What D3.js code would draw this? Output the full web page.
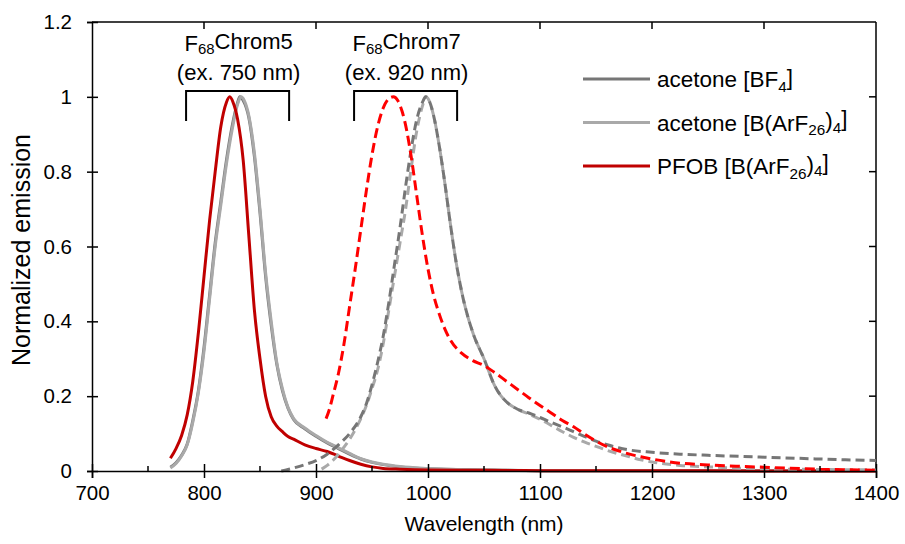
<!DOCTYPE html>
<html><head><meta charset="utf-8">
<script src="https://cdn.jsdelivr.net/npm/d3@7"></script>
<style>
html,body{margin:0;padding:0;background:#fff;}
svg text{font-family:"Liberation Sans",Arial,sans-serif;fill:#000;}
</style></head>
<body><svg id="c" width="905" height="544"></svg>
<script>
// ---- Data ----
const xTicks = [700, 800, 900, 1000, 1100, 1200, 1300, 1400];
const xMinorTicks = [750, 850, 950, 1050, 1150, 1250, 1350];
const yTicks = [0, 0.2, 0.4, 0.6, 0.8, 1, 1.2];
const yTickLabels = ["0", "0.2", "0.4", "0.6", "0.8", "1", "1.2"];

// F68Chrom5 (solid)
const c5BF4X = [770,775,780,785,790,795,800,805,810,815,820,825,830,832,835,840,845,850,855,860,865,870,875,880,890,900,910,920,930,940,950,960,975,1000,1050,1100,1200,1300,1400];
const c5BF4Y = [0.01,0.022,0.042,0.072,0.135,0.215,0.33,0.47,0.61,0.72,0.83,0.92,0.985,1.0,0.99,0.945,0.84,0.69,0.52,0.39,0.285,0.215,0.168,0.138,0.113,0.093,0.075,0.06,0.045,0.032,0.023,0.017,0.011,0.006,0.003,0.001,0.0005,0.0002,0.0001];
const c5ArFX = [770,775,780,785,790,795,800,805,810,815,820,825,830,833,836,840,845,850,855,860,865,870,875,880,890,900,910,920,930,940,950,960,975,1000,1050,1100,1200,1300,1400];
const c5ArFY = [0.008,0.02,0.04,0.07,0.13,0.21,0.32,0.46,0.6,0.71,0.82,0.91,0.98,1.0,0.99,0.95,0.85,0.7,0.53,0.4,0.29,0.22,0.17,0.14,0.115,0.095,0.077,0.062,0.047,0.033,0.024,0.018,0.012,0.007,0.003,0.001,0.0005,0.0002,0.0001];
const c5PfobX = [770,775,780,785,790,795,800,805,810,815,820,823,826,830,835,840,845,850,855,860,865,870,875,880,890,900,910,920,930,940,950,960,975,1000,1050,1100,1200,1300,1400];
const c5PfobY = [0.034,0.06,0.095,0.15,0.24,0.37,0.52,0.67,0.8,0.92,0.985,1.0,0.985,0.94,0.83,0.63,0.43,0.3,0.2,0.145,0.12,0.105,0.092,0.085,0.07,0.06,0.052,0.04,0.028,0.018,0.011,0.007,0.005,0.003,0.002,0.001,0.0005,0.0003,0.0002];

// F68Chrom7 (dashed)
const c7BF4X = [869,875,880,890,900,910,920,930,940,945,950,955,960,965,970,975,980,985,990,995,998,1001,1005,1010,1015,1020,1025,1030,1040,1050,1060,1070,1080,1090,1100,1110,1120,1130,1140,1150,1160,1170,1180,1200,1225,1250,1300,1350,1400];
const c7BF4Y = [0,0.004,0.008,0.017,0.028,0.045,0.07,0.1,0.145,0.18,0.23,0.29,0.36,0.45,0.55,0.65,0.76,0.86,0.94,0.985,1.0,0.99,0.95,0.87,0.77,0.66,0.56,0.48,0.37,0.3,0.225,0.185,0.165,0.155,0.143,0.13,0.118,0.105,0.092,0.08,0.07,0.062,0.056,0.05,0.045,0.042,0.037,0.032,0.028];
const c7ArFX = [905,910,915,920,930,940,945,950,955,960,965,970,975,980,985,990,995,998,1001,1005,1010,1015,1020,1025,1030,1040,1050,1060,1070,1080,1090,1100,1110,1120,1130,1140,1150,1160,1170,1180,1190,1200,1225,1250,1300,1350,1400];
const c7ArFY = [0.005,0.015,0.028,0.045,0.085,0.14,0.175,0.22,0.27,0.34,0.43,0.52,0.61,0.7,0.81,0.91,0.975,1.0,0.99,0.95,0.87,0.77,0.66,0.56,0.48,0.37,0.3,0.225,0.185,0.165,0.152,0.138,0.122,0.105,0.09,0.077,0.066,0.055,0.046,0.038,0.03,0.024,0.015,0.011,0.006,0.004,0.003];
const c7PfobX = [909,912,915,920,925,930,935,940,945,950,955,960,965,969,973,977,981,985,990,995,1000,1005,1010,1015,1020,1030,1040,1050,1060,1070,1080,1090,1100,1110,1120,1130,1140,1150,1160,1170,1180,1190,1200,1225,1250,1275,1300,1350,1400];
const c7PfobY = [0.14,0.165,0.2,0.26,0.34,0.44,0.54,0.645,0.75,0.845,0.92,0.97,0.995,1.0,0.99,0.96,0.91,0.84,0.735,0.63,0.54,0.47,0.42,0.38,0.35,0.315,0.295,0.282,0.262,0.24,0.218,0.196,0.175,0.155,0.135,0.118,0.098,0.08,0.065,0.054,0.045,0.038,0.032,0.021,0.016,0.013,0.01,0.005,0.002];

const legendLabels = [
  [["acetone [BF",0],["4",-1],["]",0]],
  [["acetone [B(ArF",0],["26",-1],[")",0],["4",-1],["]",0]],
  [["PFOB [B(ArF",0],["26",-1],[")",0],["4",-1],["]",0]]
];
const groupLabels = [
  {name:[["F",0],["68",-1],["Chrom5",0]], ex:"(ex. 750 nm)", from:784, to:876},
  {name:[["F",0],["68",-1],["Chrom7",0]], ex:"(ex. 920 nm)", from:934, to:1026}
];

const colDark = "#767676", colLight = "#a9a9a9", colRed = "#c00000", colRedD = "#ff0000";

// ---- Chart ----
const svg = d3.select("#c");
const L = 92, R = 876, T = 22, B = 471;
const x = d3.scaleLinear().domain([700, 1400]).range([L, R]);
const y = d3.scaleLinear().domain([0, 1.2]).range([B, T]);

const line = d3.line().x(d => x(d[0])).y(d => y(d[1])).curve(d3.curveMonotoneX);
const zip = (a, b) => a.map((v, i) => [v, b[i]]);

const series = [
  {x:c5BF4X, y:c5BF4Y, c:colDark, dash:null},
  {x:c5ArFX, y:c5ArFY, c:colLight, dash:null},
  {x:c5PfobX, y:c5PfobY, c:colRed, dash:null},
  {x:c7ArFX, y:c7ArFY, c:colLight, dash:"9,5"},
  {x:c7BF4X, y:c7BF4Y, c:colDark, dash:"9,5"},
  {x:c7PfobX, y:c7PfobY, c:colRedD, dash:"10,5"}
];

// Frame top & right
svg.append("line").attr("x1",L).attr("x2",R).attr("y1",T).attr("y2",T).attr("stroke","#000").attr("stroke-width",1.5);
svg.append("line").attr("x1",R).attr("x2",R).attr("y1",T).attr("y2",B).attr("stroke","#000").attr("stroke-width",1.5);
svg.append("g").selectAll("line").data(xTicks.slice(1,-1)).join("line")
  .attr("x1",d=>x(d)).attr("x2",d=>x(d)).attr("y1",T).attr("y2",T+7).attr("stroke","#000").attr("stroke-width",1.5);
svg.append("g").selectAll("line").data(yTicks.slice(1,-1)).join("line")
  .attr("x1",R-7).attr("x2",R).attr("y1",d=>y(d)).attr("y2",d=>y(d)).attr("stroke","#000").attr("stroke-width",1.5);

// Curves
svg.append("g").selectAll("path").data(series).join("path")
  .attr("d", s => line(zip(s.x, s.y)))
  .attr("fill","none").attr("stroke", s => s.c).attr("stroke-width",3)
  .attr("stroke-dasharray", s => s.dash);

// Bottom axis
const gx = svg.append("g").attr("transform",`translate(0,${B})`)
  .call(d3.axisBottom(x).tickValues(xTicks).tickFormat(d3.format("d")).tickSize(7).tickPadding(7));
gx.select(".domain").attr("stroke-width",1.5);
gx.selectAll(".tick line").attr("y1",-7).attr("stroke-width",1.5);
gx.selectAll(".tick text").style("font-size","20.5px").attr("font-family",null);
gx.append("g").selectAll("line").data(xMinorTicks).join("line")
  .attr("x1",d=>x(d)).attr("x2",d=>x(d)).attr("y1",0).attr("y2",-5).attr("stroke","#000").attr("stroke-width",1.5);

// Left axis
const gy = svg.append("g").attr("transform",`translate(${L},0)`)
  .call(d3.axisLeft(y).tickValues(yTicks).tickFormat((d,i)=>yTickLabels[i]).tickSize(5).tickPadding(15));
gy.select(".domain").attr("stroke-width",1.5);
gy.selectAll(".tick line").attr("x1",6).attr("stroke-width",1.5);
gy.selectAll(".tick text").style("font-size","20.5px").attr("font-family",null);

// Axis titles
svg.append("text").attr("x",(L+R)/2).attr("y",531).attr("text-anchor","middle").style("font-size","21px").text("Wavelength (nm)");
svg.append("text").attr("transform",`translate(30,250) rotate(-90)`).attr("text-anchor","middle").style("font-size","25px").text("Normalized emission");

function rich(t, parts, shift){
  let prev = 0;
  parts.forEach(([s, sub]) => {
    const ts = t.append("tspan").text(s);
    if (sub !== prev) ts.attr("dy", ((sub - prev) * -shift) + "em");
    if (sub) ts.style("font-size","0.68em");
    prev = sub;
  });
}

// Group annotations
groupLabels.forEach(g => {
  const cx = (x(g.from) + x(g.to)) / 2 + 1;
  const t1 = svg.append("text").attr("x",cx).attr("y",51).attr("text-anchor","middle").style("font-size","22px");
  rich(t1, g.name, 0.22);
  svg.append("text").attr("x",cx).attr("y",80).attr("text-anchor","middle").style("font-size","22px").text(g.ex);
  svg.append("path").attr("d",`M${x(g.from)},121V91H${x(g.to)}V121`).attr("fill","none").attr("stroke","#000").attr("stroke-width",2);
});

// Legend
const legCols = [colDark, colLight, colRed];
const lg = svg.append("g");
legendLabels.forEach((lab, i) => {
  const ly = 79 + i * 43.5;
  lg.append("line").attr("x1",583).attr("x2",650).attr("y1",ly).attr("y2",ly).attr("stroke",legCols[i]).attr("stroke-width",3);
  const t = lg.append("text").attr("x",657).attr("y",ly+8).style("font-size","22.5px");
  rich(t, lab, 0.3);
});
</script></body></html>
